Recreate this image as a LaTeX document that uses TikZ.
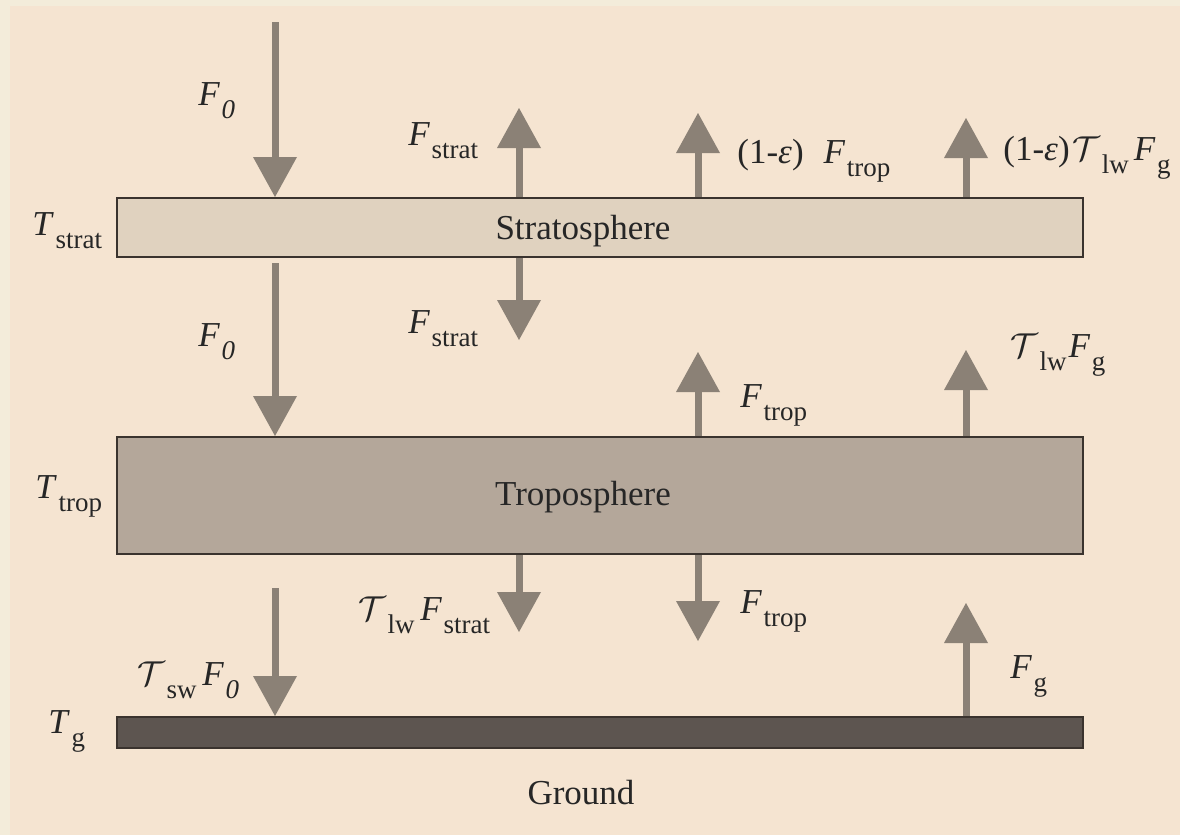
\documentclass[tikz,border=0pt]{standalone}
\usepackage{fontspec}
\setmainfont{Liberation Serif}
\usetikzlibrary{arrows.meta}
\definecolor{outerc}{HTML}{F3ECDA}
\definecolor{panelc}{HTML}{F5E4D1}
\definecolor{stratc}{HTML}{E0D2BF}
\definecolor{tropc}{HTML}{B4A79A}
\definecolor{groundc}{HTML}{5D5550}
\definecolor{borderc}{HTML}{3A332E}
\definecolor{arrowc}{HTML}{8B8176}
\newcommand\sbs[1]{\hspace{0.8pt}\raisebox{-6.5pt}{\fontsize{13.5}{14}\selectfont #1}}
\newcommand\Fv{\textit{F}}
\newcommand\Tc{\ensuremath{\mathcal{T}}}
\tikzset{
  layerbox/.style={draw=borderc, line width=1pt, inner sep=0pt, anchor=north west, minimum width=483pt},
  flux/.style={draw=arrowc, line width=3.5pt, -{Triangle[width=22pt,length=20pt,line width=0pt]}},
  lbl/.style={inner sep=0pt, anchor=base west, font=\fontsize{17.5}{20}\selectfont, text=black!85},
  layername/.style={font=\fontsize{17.5}{20}\selectfont, text=black!85}
}
\begin{document}
\begin{tikzpicture}[x=0.5pt,y=-0.5pt]
\useasboundingbox (0,0) rectangle (1180,835);
\fill[outerc] (0,0) rectangle (1180,835);
\fill[panelc] (10,6) rectangle (1180,835);

% layers
\node[layerbox, fill=stratc, minimum height=29.5pt] (strat) at (116,197) {};
\node[layerbox, fill=tropc, minimum height=58.5pt] (trop) at (116,436) {};
\node[layerbox, fill=groundc, minimum height=15.5pt] (ground) at (116,716) {};
\node[layername] (stratname) at (583,231) {Stratosphere};
\node[layername] (tropname) at (583,497) {Troposphere};
\node[layername] (groundname) at (581,793) {Ground};

% free arrow ends
\coordinate (a1) at (275,22);
\coordinate (a2) at (519,108);
\coordinate (a3) at (698,113);
\coordinate (a4) at (966,118);
\coordinate (a5) at (275,263);
\coordinate (a6) at (519,340);
\coordinate (a7) at (698,352);
\coordinate (a8) at (966,350);
\coordinate (a9) at (519,632);
\coordinate (a10) at (698,641);
\coordinate (a11) at (275,588);
\coordinate (a12) at (966,603);

\draw[flux] (a1) -- (a1 |- strat.north);
\draw[flux] (a2 |- strat.north) -- (a2);
\draw[flux] (a3 |- strat.north) -- (a3);
\draw[flux] (a4 |- strat.north) -- (a4);
\draw[flux] (a5) -- (a5 |- trop.north);
\draw[flux] (a6 |- strat.south) -- (a6);
\draw[flux] (a7 |- trop.north) -- (a7);
\draw[flux] (a8 |- trop.north) -- (a8);
\draw[flux] (a9 |- trop.south) -- (a9);
\draw[flux] (a10 |- trop.south) -- (a10);
\draw[flux] (a11) -- (a11 |- ground.north);
\draw[flux] (a12 |- ground.north) -- (a12);

% labels
\node[lbl] (l1) at (198,105) {\Fv\sbs{\textit{0}}};
\node[lbl] (l2) at (408,145) {\Fv\sbs{strat}};
\node[lbl] (l3) at (737,163) {(1-\textit{ε})\hspace{10pt}\Fv\sbs{trop}};
\node[lbl] (l4) at (1003,160) {(1-\textit{ε})\hspace{1.5pt}\Tc\sbs{lw}\hspace{2.5pt}\Fv\sbs{g}};
\node[lbl] (tstrat) at (32,235) {\textit{T}\sbs{strat}};
\node[lbl] (l5) at (198,346) {\Fv\sbs{\textit{0}}};
\node[lbl] (l6) at (408,333) {\Fv\sbs{strat}};
\node[lbl] (l7) at (740,407) {\Fv\sbs{trop}};
\node[lbl] (l8) at (1010,357) {\Tc\sbs{lw}\hspace{1pt}\Fv\sbs{g}};
\node[lbl] (ttrop) at (35,498) {\textit{T}\sbs{trop}};
\node[lbl] (l9) at (358,620) {\Tc\sbs{lw}\,\Fv\sbs{strat}};
\node[lbl] (l10) at (740,613) {\Fv\sbs{trop}};
\node[lbl] (l11) at (137,685) {\Tc\sbs{sw}\,\Fv\sbs{\textit{0}}};
\node[lbl] (l12) at (1010,678) {\Fv\sbs{g}};
\node[lbl] (tg) at (48,733) {\textit{T}\sbs{g}};
\end{tikzpicture}
\end{document}
